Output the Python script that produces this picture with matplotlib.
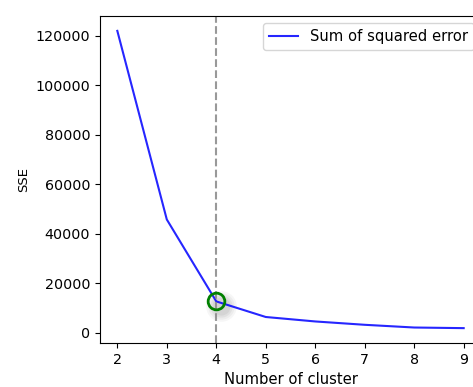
import matplotlib
matplotlib.use("Agg")
import matplotlib.pyplot as plt

clusters = [2, 3, 4, 5, 6, 7, 8, 9]
sse = [122000, 45800, 12700, 6400, 4600, 3250, 2150, 1900]
elbow_k = 4
elbow_sse = 12700

fig = plt.figure(figsize=(4.73, 3.87), dpi=100)
ax = fig.add_axes([100/473, 44/387, (481-100)/473, (343-16)/387])
ax.plot(clusters, sse, color="blue", lw=1.5, alpha=0.85, label="Sum of squared error")
ax.axvline(elbow_k, color="gray", ls="--", lw=1.5, alpha=0.8)
# soft shadow behind the elbow marker
for s, a in [(22, 0.07), (19, 0.08), (16, 0.1), (13, 0.12)]:
    ax.plot([elbow_k + 0.1], [elbow_sse - 2000], marker="o", ms=s, mfc="gray",
            mec="none", alpha=a, zorder=1)
ax.plot([elbow_k], [elbow_sse], marker="o", ms=12, mfc="none", mec="green", mew=2, zorder=3)
ax.set_xlabel("Number of cluster", fontsize=10.6)
ax.set_ylabel("SSE", fontsize=9.5)
ax.set_xticks(clusters)
ax.set_yticks([0, 20000, 40000, 60000, 80000, 100000, 120000])
ax.tick_params(labelsize=10.3)
ax.legend(loc="upper right", fontsize=10.6)
fig.savefig("out.png", dpi=100)
